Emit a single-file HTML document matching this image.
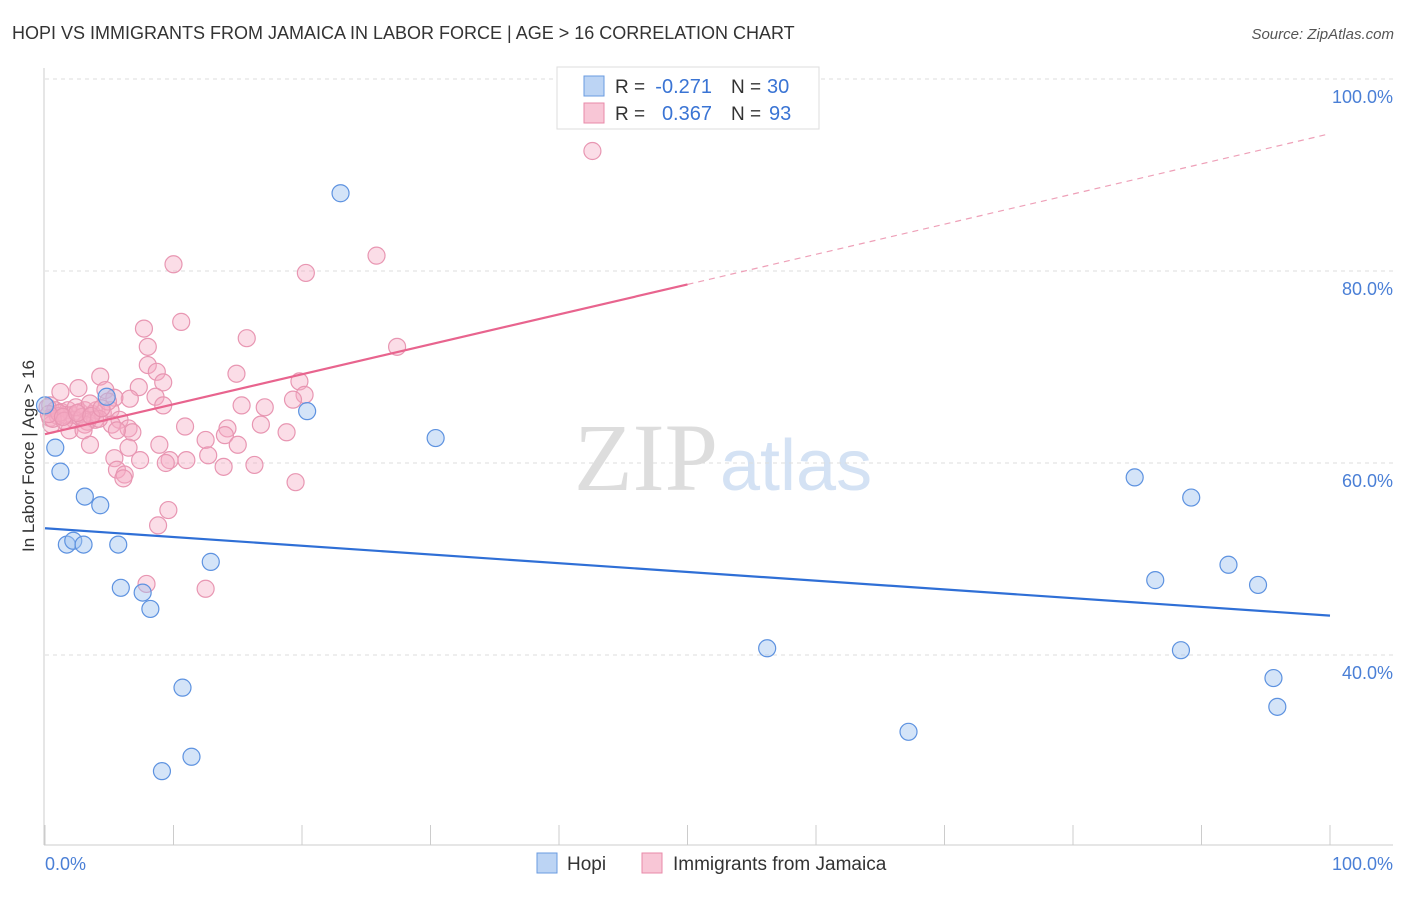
<!DOCTYPE html>
<html><head><meta charset="utf-8"><style>
body{margin:0;background:#fff;font-family:"Liberation Sans",sans-serif}
</style></head><body>
<svg id="chart" width="1406" height="892" xmlns="http://www.w3.org/2000/svg" style="font-family:'Liberation Sans',sans-serif">
<text x="12" y="39" font-size="18" fill="#333">HOPI VS IMMIGRANTS FROM JAMAICA IN LABOR FORCE | AGE &gt; 16 CORRELATION CHART</text>
<text x="1394" y="39" font-size="15" fill="#555" text-anchor="end" font-style="italic">Source: ZipAtlas.com</text>
<text x="718" y="490" font-size="96" fill="#ddd" text-anchor="end" font-family="Liberation Serif">ZIP</text>
<text x="720" y="490" font-size="72" fill="#d4e2f4">atlas</text>
<g id="grid"></g><g id="pts"></g><g id="lines"></g>
<line x1="44" y1="68" x2="44" y2="845" stroke="#ccc"/>
<line x1="44" y1="845" x2="1393" y2="845" stroke="#ccc"/>
<text transform="translate(34,456) rotate(-90)" font-size="17" fill="#333" text-anchor="middle">In Labor Force | Age &gt; 16</text>
<text x="45" y="870" font-size="18" fill="#4a7fd6">0.0%</text>
<text x="1393" y="870" font-size="18" fill="#4a7fd6" text-anchor="end">100.0%</text>
<g>
<rect x="557" y="67" width="262" height="62" fill="#fff" stroke="#ddd"/>
<rect x="584" y="76" width="20" height="20" fill="#bcd4f4" stroke="#6a9be0"/>
<rect x="584" y="103" width="20" height="20" fill="#f8c6d6" stroke="#e88aa8"/>
<text x="615" y="93" font-size="19" fill="#333">R =</text>
<text x="712" y="93" font-size="20" fill="#3a74d4" text-anchor="end">-0.271</text>
<text x="731" y="93" font-size="19" fill="#333">N =</text>
<text x="767" y="93" font-size="20" fill="#3a74d4">30</text>
<text x="615" y="120" font-size="19" fill="#333">R =</text>
<text x="712" y="120" font-size="20" fill="#3a74d4" text-anchor="end">0.367</text>
<text x="731" y="120" font-size="19" fill="#333">N =</text>
<text x="769" y="120" font-size="20" fill="#3a74d4">93</text>
</g>
<g>
<rect x="537" y="853" width="20" height="20" fill="#bcd4f4" stroke="#6a9be0"/>
<text x="567" y="870" font-size="19" fill="#333">Hopi</text>
<rect x="642" y="853" width="20" height="20" fill="#f8c6d6" stroke="#e88aa8"/>
<text x="673" y="870" font-size="19" fill="#333">Immigrants from Jamaica</text>
</g>
</svg>
<script>
const yTicks=[100,80,60,40];
const yTickLabels=["100.0%","80.0%","60.0%","40.0%"];
const hopiX=[0,0.8,1.2,3.1,4.3,1.7,2.2,3.0,5.7,4.8,5.9,7.6,8.2,10.7,11.4,9.1,12.9,20.4,23.0,30.4,56.2,67.2,84.8,89.2,86.4,88.4,92.1,94.4,95.6,95.9];
const hopiY=[66.0,61.6,59.1,56.5,55.6,51.5,51.9,51.5,51.5,66.9,47.0,46.5,44.8,36.6,29.4,27.9,49.7,65.4,88.1,62.6,40.7,32.0,58.5,56.4,47.8,40.5,49.4,47.3,37.6,34.6];
const jamX=[42.6,10.0,20.3,25.8,10.6,7.7,15.7,27.4,8.0,8.0,8.7,14.9,19.8,9.2,4.3,2.6,4.7,7.3,1.2,8.6,20.2,19.3,17.1,15.3,6.6,5.4,9.2,0.4,0.8,1.3,1.8,2.1,2.7,3.1,3.7,4.0,4.5,5.1,0.4,1.0,1.6,2.3,3.3,3.9,5.8,0.5,1.9,3.1,5.2,6.5,6.8,5.6,3.0,10.9,14.2,16.8,18.8,14.0,12.5,8.9,6.5,3.5,15.0,12.7,11.0,9.7,5.4,7.4,16.3,13.9,9.4,5.6,6.2,6.1,19.5,9.6,8.8,7.9,12.5,0.2,0.6,1.1,1.5,2.4,2.9,3.5,4.2,4.9,0.3,1.4,2.5,3.6,4.4];
const jamY=[92.5,80.7,79.8,81.6,74.7,74.0,73.0,72.1,72.1,70.2,69.5,69.3,68.5,68.4,69.0,67.8,67.6,67.9,67.4,66.9,67.1,66.6,65.8,66.0,66.7,66.8,66.0,66.0,65.5,65.3,65.5,65.0,65.3,65.5,65.1,65.5,65.2,65.5,64.7,64.9,65.0,64.5,64.3,64.5,64.5,64.0,63.4,64.0,64.0,63.6,63.2,63.4,63.4,63.8,63.6,64.0,63.2,62.9,62.4,61.9,61.6,61.9,61.9,60.8,60.3,60.3,60.5,60.3,59.8,59.6,60.0,59.3,58.8,58.4,58.0,55.1,53.5,47.4,46.9,65.8,64.6,65.2,64.4,65.8,64.8,66.2,64.6,66.4,65.1,64.8,65.2,64.9,65.7];
const hopiTrend=[53.2,44.1];
const jamTrendStart=63.0, jamTrendSolidEnd=78.6, jamTrendEnd=94.3, jamSolidX=50;
const X=v=>45+v*12.85, Y=v=>79+(100-v)*9.6;
const NS="http://www.w3.org/2000/svg";
function mk(tag,attrs,parent){const e=document.createElementNS(NS,tag);for(const k in attrs)e.setAttribute(k,attrs[k]);parent.appendChild(e);return e;}
const grid=document.getElementById('grid');
yTicks.forEach((t,i)=>{
 const l=mk('line',{x1:45,x2:1393,y1:Y(t),y2:Y(t),stroke:'#ddd','stroke-dasharray':'4,4'},grid);
 
 
 const tx=mk('text',{x:1393,y:Y(t)+24,'font-size':18,fill:'#4a7fd6','text-anchor':'end'},grid);
 tx.textContent=yTickLabels[i];
 
 
});
for(let i=0;i<=10;i++){
 const t=mk('line',{x1:X(i*10),x2:X(i*10),y1:825,y2:845,stroke:'#ccc'},grid);
 
 
}
const pts=document.getElementById('pts');
jamX.forEach((x,i)=>{
 const c=mk('circle',{cx:X(x),cy:Y(jamY[i]),r:8.5,fill:'rgba(245,170,195,0.4)',stroke:'#e896b2','stroke-width':1.2},pts);
 
 
});
hopiX.forEach((x,i)=>{
 const c=mk('circle',{cx:X(x),cy:Y(hopiY[i]),r:8.5,fill:'rgba(160,195,240,0.45)',stroke:'#5d92e0','stroke-width':1.2},pts);
 
 
});
const lines=document.getElementById('lines');
const b=mk('line',{x1:X(0),y1:Y(hopiTrend[0]),x2:X(100),y2:Y(hopiTrend[1]),stroke:'#2f6fd6','stroke-width':2.2},lines);


const p=mk('line',{x1:X(0),y1:Y(jamTrendStart),x2:X(jamSolidX),y2:Y(jamTrendSolidEnd),stroke:'#e8648e','stroke-width':2.2},lines);


const pd=mk('line',{x1:X(jamSolidX),y1:Y(jamTrendSolidEnd),x2:X(100),y2:Y(jamTrendEnd),stroke:'#eea0b8','stroke-width':1.2,'stroke-dasharray':'6,5'},lines);


</script>
</body></html>
